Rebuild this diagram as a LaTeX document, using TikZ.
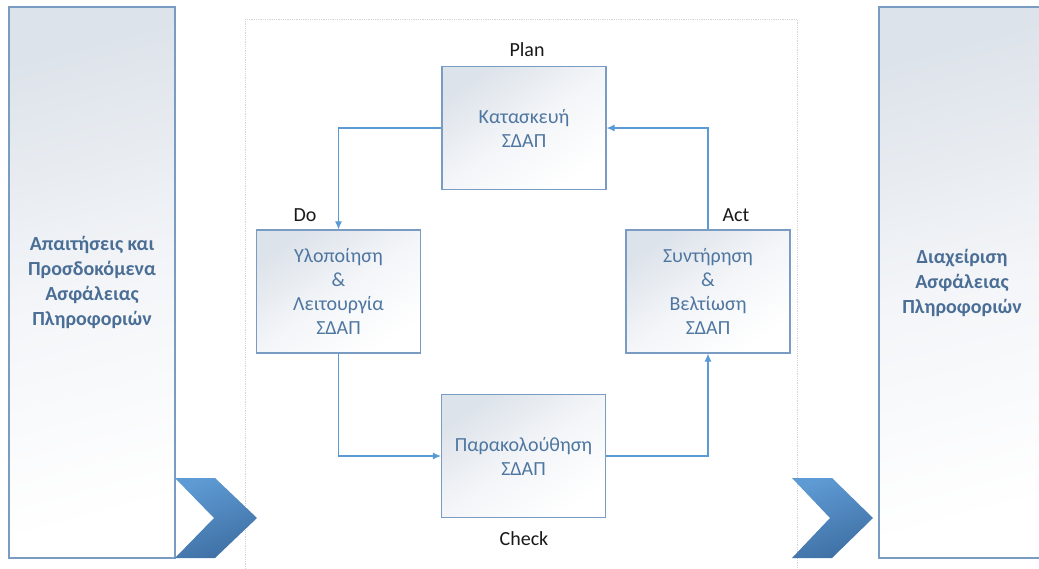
\documentclass[tikz,border=0pt]{standalone}
\usepackage{fontspec}
\setmainfont{Carlito}
\usetikzlibrary{arrows.meta}
\definecolor{boxline}{HTML}{7A9CC2}
\definecolor{boxtext}{HTML}{4E76A0}
\definecolor{sidetext}{HTML}{4A6E95}
\definecolor{connc}{HTML}{5B9BD5}
\definecolor{shadetop}{HTML}{DDE3EA}
\definecolor{shademid}{HTML}{F3F5F8}
\definecolor{chevtop}{HTML}{5E9AD3}
\definecolor{chevbot}{HTML}{3E6FA3}
\definecolor{frame}{HTML}{D4D4D4}
\tikzset{
  stepbox/.style={draw=boxline, line width=1.2pt, minimum width=164pt, minimum height=123pt,
    top color=shadetop, bottom color=white, middle color=shademid, shading angle=35,
    text=boxtext, font=\fontsize{20}{24}\selectfont, align=center, inner sep=0pt},
  sidebox/.style={draw=boxline, line width=1.2pt, minimum width=166pt, minimum height=551pt,
    top color=shadetop, bottom color=white, middle color=shademid, shading angle=15,
    text=sidetext, font=\bfseries\fontsize{20}{25}\selectfont, align=center, inner sep=0pt},
  phase/.style={text=black!90, font=\fontsize{20}{22}\selectfont, inner sep=0pt},
  conn/.style={draw=connc, line width=1.1pt, -{Latex[length=8pt,width=7pt]}},
  chev/.style={top color=chevtop, bottom color=chevbot, shading angle=20, draw=none},
}
\begin{document}
\begin{tikzpicture}[x=1pt,y=-1pt]
\useasboundingbox (0,0) rectangle (1039,568);
\fill[white] (0,0) rectangle (1039,568);
% central dotted frame
\draw[frame, densely dotted, line width=0.8pt] (245,19) rectangle (797,570);
% side boxes
\node[sidebox] (req) at (92,282.5) {Απαιτήσεις και\\Προσδοκόμενα\\Ασφάλειας\\Πληροφοριών};
\begin{scope}
\clip (0,0) rectangle (1039,568);
\node[sidebox] (mgmt) at (962,282.5) {Διαχείριση\\Ασφάλειας\\Πληροφοριών};
\end{scope}
% chevrons
\shade[chev] (175,478) -- (215,478) -- (257,518) -- (215,558) -- (175,558) -- (214,518) -- cycle;
\shade[chev] (792,478) -- (832,478) -- (873,518) -- (832,558) -- (792,558) -- (830,518) -- cycle;
% PDCA boxes
\node[stepbox] (plan) at (524,128) {Κατασκευή\\ΣΔΑΠ};
\node[stepbox] (do) at (338.5,291.5) {Υλοποίηση\\\&\\Λειτουργία\\ΣΔΑΠ};
\node[stepbox] (act) at (708,291.5) {Συντήρηση\\\&\\Βελτίωση\\ΣΔΑΠ};
\node[stepbox] (check) at (523.5,456) {Παρακολούθηση\\ΣΔΑΠ};
% phase labels
\node[phase] (lplan) at (527,50) {Plan};
\node[phase] (ldo) at (305,215) {Do};
\node[phase] (lact) at (736,215) {Act};
\node[phase] (lcheck) at (524,539) {Check};
% connectors
\draw[conn] (plan.west) -| (do.north);
\draw[conn] (do.south) |- (check.west);
\draw[conn] (check.east) -| (act.south);
\draw[conn] (act.north) |- (plan.east);
\end{tikzpicture}
\end{document}
